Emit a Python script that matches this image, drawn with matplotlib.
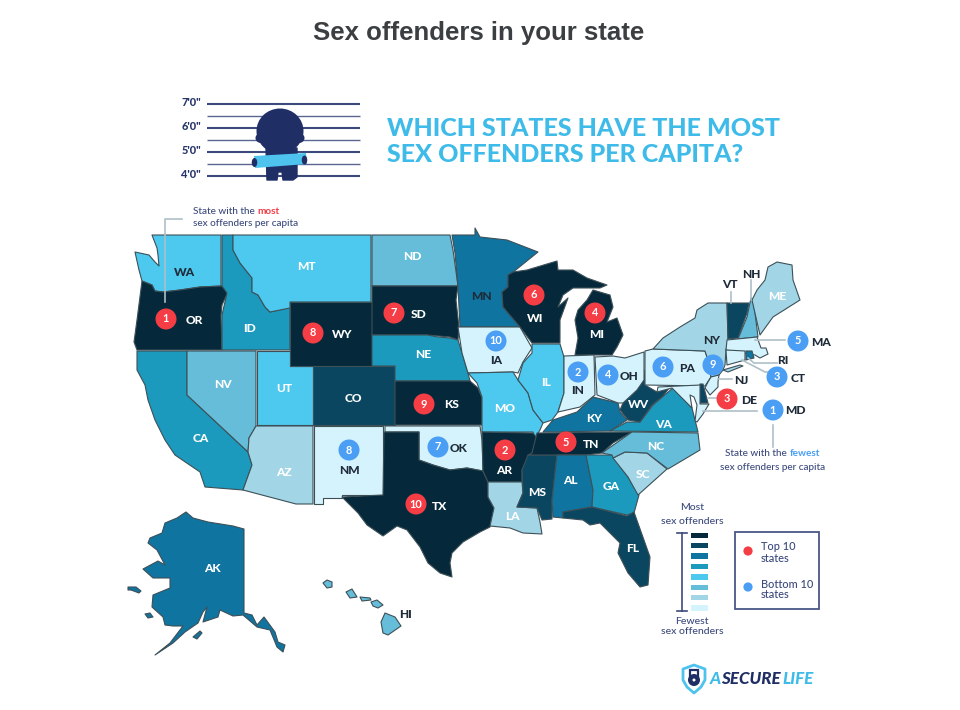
import matplotlib
matplotlib.use("Agg")
import matplotlib.pyplot as plt
from matplotlib.patches import Circle, Ellipse, Polygon, Rectangle

states = ["WA", "OR", "CA", "NV", "ID", "UT", "AZ", "MT", "WY", "CO", "NM", "ND", "SD", "NE", "KS", "OK", "TX",
          "MN", "IA", "MO", "AR", "LA", "WI", "IL", "MS", "MI", "IN", "KY", "TN", "AL", "GA", "FL", "SC", "NC",
          "VA", "WV", "OH", "PA", "NY", "VT", "NH", "ME", "MA", "CT", "RI", "NJ", "DE", "MD", "AK", "HI"]
# bin 1 = fewest, bin 8 = most
state_bins = [4, 8, 5, 3, 5, 4, 2, 4, 8, 7, 1, 3, 8, 5, 8, 1, 8,
              6, 1, 4, 8, 2, 8, 4, 7, 8, 1, 6, 8, 6, 5, 7, 2, 3,
              5, 7, 1, 1, 2, 7, 3, 2, 1, 1, 6, 1, 7, 1, 6, 3]
top10 = ["OR", "AR", "DE", "MI", "TN", "WI", "SD", "WY", "KS", "TX"]
bottom10 = ["MD", "IN", "CT", "OH", "MA", "PA", "OK", "NM", "NJ", "IA"]
bin_colors = ["#d4f3fc", "#a2d6e6", "#66bdd9", "#4dc8ee", "#1b9abd", "#0f74a0", "#0b4660", "#05293a"]
height_labels = ["7'0\"", "6'0\"", "5'0\"", "4'0\""]

# map geometry, in pixels of the picture
outlines = {
    "WA": [(152,235),(221,235),(221,286),(200,287),(180,290),(163,292),(155,291),(152,285),(142,281),(139,270),(135,252),(149,255),(155,262),(159,266),(158,255),(157,248)],
    "OR": [(142,281),(152,285),(155,291),(163,292),(180,290),(200,287),(222,286),(228,292),(222,305),(221,316),(222,350),(137,350),(134,342),(137,320)],
    "ID": [(222,235),(233,235),(233,250),(240,263),(252,278),(252,292),(258,295),(265,307),(270,312),(287,308),(290,308),(290,350),(222,350),(222,315),(227,293),(222,286)],
    "MT": [(233,235),(371,235),(371,302),(290,302),(290,308),(270,312),(265,307),(258,295),(252,292),(252,278),(240,263),(233,250)],
    "ND": [(372,235),(450,235),(453,250),(458,286),(372,286)],
    "SD": [(372,286),(458,286),(456,300),(459,327),(458,340),(450,337),(438,336),(427,335),(372,335)],
    "WY": [(290,302),(372,302),(372,366),(290,366)],
    "NE": [(372,335),(427,335),(438,337),(450,338),(458,340),(462,353),(468,373),(470,381),(395,381),(395,366),(372,366)],
    "KS": [(395,381),(470,381),(478,388),(482,398),(482,425),(395,425)],
    "CO": [(313,366),(395,366),(395,425),(313,425)],
    "UT": [(257,351),(290,351),(290,366),(313,366),(313,425),(257,425)],
    "NV": [(187,351),(256,351),(256,426),(249,438),(248,452),(187,395)],
    "CA": [(137,351),(187,351),(187,395),(248,452),(252,465),(243,490),(205,487),(200,472),(175,455),(165,440),(155,420),(148,400),(145,385),(137,370)],
    "AZ": [(256,426),(313,426),(313,504),(296,504),(243,490),(252,465),(248,452),(249,438)],
    "NM": [(314,426),(383,426),(383,495),(342,495),(342,498),(323,498),(323,504),(314,504)],
    "OK": [(385,426),(480,426),(482,440),(483,471),(467,468),(450,470),(433,465),(419,460),(419,432),(385,432)],
    "TX": [(384,432),(419,432),(419,460),(433,465),(450,470),(467,468),(483,471),(488,482),(488,497),(494,508),(490,527),(480,532),(463,542),(452,553),(450,563),(452,577),(440,573),(428,563),(420,547),(407,530),(397,526),(383,536),(367,525),(358,513),(342,497),(383,495)],
    "AR": [(482,432),(533,433),(537,438),(532,453),(522,470),(522,482),(488,482),(483,471)],
    "LA": [(488,482),(522,482),(523,493),(517,507),(537,508),(540,522),(542,534),(523,533),(510,528),(490,526),(494,508),(488,497)],
    "MS": [(528,455),(557,455),(552,500),(552,519),(542,520),(537,508),(517,507),(523,493),(522,470)],
    "AL": [(557,455),(586,455),(593,490),(592,507),(563,512),(563,518),(553,517),(552,500)],
    "GA": [(586,455),(612,455),(628,477),(639,495),(634,513),(627,515),(592,507),(593,490)],
    "FL": [(563,512),(592,507),(627,516),(634,512),(650,557),(648,585),(640,587),(628,573),(618,553),(620,543),(600,523),(590,525),(583,520),(563,518)],
    "SC": [(613,458),(625,452),(647,453),(667,469),(638,495),(628,477)],
    "NC": [(602,453),(632,432),(698,433),(700,450),(668,469),(647,453),(625,452),(613,458),(612,455)],
    "TN": [(537,433),(632,432),(613,443),(602,453),(586,455),(528,455),(532,453)],
    "VA": [(610,431),(627,422),(640,422),(653,405),(667,393),(673,388),(680,395),(692,408),(698,432)],
    "KY": [(543,432),(553,420),(577,412),(593,397),(618,403),(620,412),(627,420),(610,431)],
    "WV": [(620,410),(623,403),(637,390),(644,370),(645,385),(657,392),(670,387),(663,396),(652,405),(640,422),(628,420)],
    "OH": [(595,357),(613,356),(625,358),(644,352),(644,380),(637,390),(623,403),(618,403),(597,395)],
    "IN": [(564,356),(594,355),(595,395),(580,407),(558,412),(564,393)],
    "IL": [(532,344),(560,344),(564,357),(564,393),(558,412),(552,420),(543,423),(533,410),(528,393),(518,380),(523,363),(532,353)],
    "IA": [(458,327),(520,327),(532,348),(523,362),(518,373),(513,372),(468,373),(462,353)],
    "MO": [(468,373),(513,372),(518,380),(528,393),(533,410),(543,423),(540,430),(535,438),(533,432),(482,432),(482,397),(477,383)],
    "MN": [(452,235),(475,235),(475,228),(480,237),(507,240),(538,252),(512,273),(508,275),(508,287),(502,292),(503,307),(520,327),(460,327),(458,287),(455,253)],
    "WI": [(513,272),(527,270),(557,261),(558,270),(573,270),(587,278),(607,285),(600,288),(573,288),(563,295),(558,307),(568,298),(560,320),(560,343),(532,343),(520,327),(503,307),(502,292),(508,287),(508,275)],
    "MI": [(587,300),(593,290),(610,295),(613,307),(607,322),(617,318),(623,335),(617,347),(612,355),(575,355),(578,338),(575,320),(578,310)],
    "PA": [(645,351),(653,349),(705,351),(708,360),(711,377),(705,386),(645,385)],
    "NY": [(653,349),(663,338),(680,327),(695,318),(697,310),(708,303),(727,303),(728,340),(726,350),(725,365),(723,370),(719,375),(711,377),(708,360),(705,351)],
    "VT": [(727,303),(749,303),(747,313),(738,338),(728,339)],
    "NH": [(751,298),(753,300),(755,313),(758,337),(738,339),(747,317)],
    "ME": [(777,262),(792,265),(793,280),(800,300),(773,317),(760,335),(752,300),(757,290),(765,280),(768,267)],
    "MA": [(727,340),(757,337),(761,348),(766,348),(768,354),(760,358),(755,355),(726,350)],
    "CT": [(726,350),(745,351),(745,360),(727,365)],
    "RI": [(746,351),(752,351),(754,358),(746,360)],
    "NJ": [(711,377),(719,375),(718,382),(718,387),(710,395),(705,388),(708,382)],
    "DE": [(700,384),(703,384),(708,403),(700,403)],
    "MD": [(658,387),(700,385),(700,404),(709,404),(703,414),(697,422),(695,421),(697,405),(694,397),(690,395),(692,408),(680,396),(672,388),(657,392)],
    "AK": [(186,512),(193,518),(208,522),(233,526),(244,529),(244,613),(252,615),(257,625),(264,617),(275,632),(278,642),(285,645),(283,652),(277,647),(270,630),(257,627),(243,615),(233,616),(220,610),(218,617),(203,622),(207,607),(203,612),(198,623),(185,632),(173,643),(155,655),(170,643),(183,626),(173,626),(165,625),(163,617),(152,607),(153,595),(170,588),(170,578),(153,578),(143,569),(158,561),(165,565),(157,550),(148,543),(150,538),(162,533),(165,523),(177,518)],
}
extra_parts = {
    "NY": [[(723,370),(740,365),(743,366),(728,372)]],
    "AK": [[(193,637),(200,631),(202,633),(197,639)],
           [(128,587),(136,587),(141,591),(139,593),(131,590),(128,590)],
           [(145,614),(150,613),(153,617),(148,618)]],
    "HI": [[(323,583),(327,580),(332,582),(332,587),(327,588)],
           [(346,592),(352,589),(357,597),(350,598)],
           [(360,597),(370,598),(371,600),(362,601)],
           [(371,602),(377,600),(383,605),(378,608),(373,606)],
           [(385,613),(395,617),(401,626),(388,635),(383,633),(381,622)]],
}
label_pos = {
    "WA": (184,271), "OR": (194,319), "CA": (201,438), "NV": (223,383), "ID": (250,328), "UT": (284,388),
    "AZ": (284,471), "MT": (306,266), "WY": (342,333), "CO": (353,397), "NM": (349,469), "ND": (412,255),
    "SD": (419,313), "NE": (423,353), "KS": (452,404), "OK": (459,447), "TX": (440,505), "MN": (481,296),
    "IA": (496,359), "MO": (505,407), "AR": (504,469), "LA": (512,516), "WI": (535,317), "IL": (546,382),
    "MS": (537,492), "MI": (597,333), "IN": (578,390), "KY": (594,417), "TN": (591,444), "AL": (570,480),
    "GA": (611,485), "FL": (633,547), "SC": (643,474), "NC": (656,446), "VA": (663,424), "WV": (638,404),
    "OH": (629,375), "PA": (687,367), "NY": (712,340), "VT": (730,284), "NH": (751,274), "ME": (777,296),
    "MA": (821,341), "CT": (798,377), "RI": (783,359), "NJ": (741,380), "DE": (749,400), "MD": (795,410),
    "AK": (212,567), "HI": (405,614),
}
badge_pos = {
    "OR": (166,319), "SD": (394,313), "WY": (313,333), "KS": (424,404), "TX": (416,504), "AR": (505,450),
    "WI": (534,295), "MI": (595,313), "TN": (566,442), "DE": (727,399), "MD": (773,410), "IN": (578,372),
    "CT": (777,377), "OH": (608,375), "MA": (798,341), "PA": (663,367), "OK": (438,447), "NM": (349,450),
    "NJ": (713,365), "IA": (496,341),
}
dark_labels = ["WA", "OK", "NM", "NY", "PA", "IN", "OH", "IA", "NJ", "RI", "CT", "MA", "MD", "DE", "VT", "NH", "HI", "MN"]
leaders = [[(165,302),(165,219),(182,219)], [(731,292),(731,303)], [(751,280),(751,300)], [(755,340),(785,340)],
           [(748,358),(754,363),(777,363)], [(742,360),(765,372),(768,372)], [(718,379),(732,379)],
           [(708,398),(717,398)], [(703,411),(757,411)], [(773,425),(773,447)]]

RED = "#f53d45"
BLUE = "#4a9ff5"
NAVY = "#3c4a7d"
DARK = "#1f2b38"
SKY = "#3ebbe8"
EDGE = "#3d5058"
FONT = "Lato"

fig = plt.figure(figsize=(9.6, 7.1), dpi=100, facecolor="white")
ax = fig.add_axes([0, 0, 1, 1])
ax.set_xlim(0, 960)
ax.set_ylim(710, 0)
ax.axis("off")


def px(size):
    return size * 0.72


def txt(x, y, s, size, color, weight="bold", ha="center", family=FONT, **kw):
    return ax.text(x, y + 1, s, fontsize=px(size), color=color, fontweight=weight, ha=ha, va="center",
                   family=family, **kw)


txt(479, 32, "Sex offenders in your state", 25.7, "#3b3f42", family="Liberation Sans")
txt(387, 127, "WHICH STATES HAVE THE MOST", 25, SKY, ha="left", weight="black")
txt(387, 153, "SEX OFFENDERS PER CAPITA?", 25, SKY, ha="left", weight="black")

# mugshot wall
for i, y in enumerate([104, 116, 128, 140, 152, 164, 176]):
    ax.plot([207, 360], [y, y], color=NAVY if i % 2 == 0 else "#5a6690", lw=1.5 if i % 2 == 0 else 1.0,
            solid_capstyle="butt", zorder=1)
for lab, y in zip(height_labels, [104, 128, 152, 176]):
    txt(201, y - 2, lab, 11, "#27366b", ha="right", weight="black")
ax.add_patch(Ellipse((280,131), 47, 45, fc="#1f2f66", ec="none", zorder=2))
ax.add_patch(Ellipse((261,138), 11, 10, fc="#1f2f66", ec="none", zorder=2))
ax.add_patch(Ellipse((299,138), 11, 10, fc="#1f2f66", ec="none", zorder=2))
ax.add_patch(Polygon([(266,148),(297,148),(297,177),(293,180),(283,180),(282,172),(278,172),(277,180),(267,180)],
                     closed=True, fc="#1f2f66", ec="#1f2f66", lw=1, joinstyle="round", zorder=2))
ax.add_patch(Polygon([(254,156),(306,153),(307,164),(255,168)], closed=True, fc="#4dc3ee", ec="none", zorder=3))
ax.add_patch(Ellipse((254.5,162.5), 5.5, 9, fc="#1f2f66", ec="none", zorder=4))
ax.add_patch(Ellipse((304.5,160), 5.5, 9, fc="#1f2f66", ec="none", zorder=4))

# states
for st, b in zip(states, state_bins):
    parts = ([outlines[st]] if st in outlines else []) + extra_parts.get(st, [])
    for part in parts:
        ax.add_patch(Polygon(part, closed=True, fc=bin_colors[b - 1], ec=EDGE, lw=0.8, joinstyle="round", zorder=2))

for line in leaders:
    ax.plot([p[0] for p in line], [p[1] for p in line], color="#aebfc8", lw=1.2, zorder=3)

for st in states:
    x, y = label_pos[st]
    txt(x, y, st, 12, DARK if st in dark_labels else "white", zorder=6, weight="black")

for ranks, color in [(top10, RED), (bottom10, BLUE)]:
    for i, st in enumerate(ranks):
        x, y = badge_pos[st]
        ax.add_patch(Circle((x, y), 10.5, fc=color, ec="none", zorder=5))
        txt(x, y - 1, str(i + 1), 11, "white", zorder=6)

# callouts
txt(193, 211, "State with the", 10, NAVY, ha="left", weight="medium")
txt(257, 211, "most", 10, RED, ha="left")
txt(193, 222, "sex offenders per capita", 10, NAVY, ha="left", weight="medium")
txt(725, 453, "State with the", 10, NAVY, ha="left", weight="medium")
txt(790, 453, "fewest", 10, BLUE, ha="left")
txt(773, 466, "sex offenders per capita", 10, NAVY, weight="medium")

# colour scale
txt(692, 507, "Most", 10.5, NAVY, weight="medium")
txt(692, 520, "sex offenders", 10.5, NAVY, weight="medium")
txt(692, 620, "Fewest", 10.5, NAVY, weight="medium")
txt(692, 631, "sex offenders", 10.5, NAVY, weight="medium")
ax.plot([682, 682], [533, 611], color=NAVY, lw=1.2)
ax.plot([677, 687], [533, 533], color=NAVY, lw=1.2)
ax.plot([677, 687], [611, 611], color=NAVY, lw=1.2)
for i, c in enumerate(reversed(bin_colors)):
    ax.add_patch(Rectangle((691, 532.5 + i * 10.4), 17, 5.5, fc=c, ec="none"))

ax.add_patch(Rectangle((735, 532), 84, 77, fc="white", ec="#4a5688", lw=1.3))
ax.add_patch(Circle((748, 551), 4.6, fc=RED, ec="none"))
ax.add_patch(Circle((748, 587), 4.6, fc=BLUE, ec="none"))
for y, s in [(546, "Top 10"), (557, "states"), (583, "Bottom 10"), (594, "states")]:
    txt(761, y, s, 11, NAVY, ha="left", weight="medium")

# logo
shield = [(694,665),(705,669),(705,680),(701,687),(694,693),(687,687),(683,680),(683,669)]
ax.add_patch(Polygon(shield, closed=True, fc="white", ec="#4dc3ee", lw=2, joinstyle="round"))
ax.add_patch(Circle((694,680), 6, fc="#1f2f66", ec="none"))
ax.add_patch(Rectangle((690,670), 8, 8, fc="none", ec="#1f2f66", lw=1.6))
ax.add_patch(Circle((694,680), 1.5, fc="white", ec="none"))
txt(710, 678, "A", 17, SKY, ha="left", weight="black", style="italic")
txt(721, 678, "SECURE", 17, "#1f2f66", ha="left", weight="black", style="italic")
txt(782, 678, "LIFE", 17, SKY, ha="left", weight="black", style="italic")

fig.savefig("out.png", dpi=100, facecolor="white")
